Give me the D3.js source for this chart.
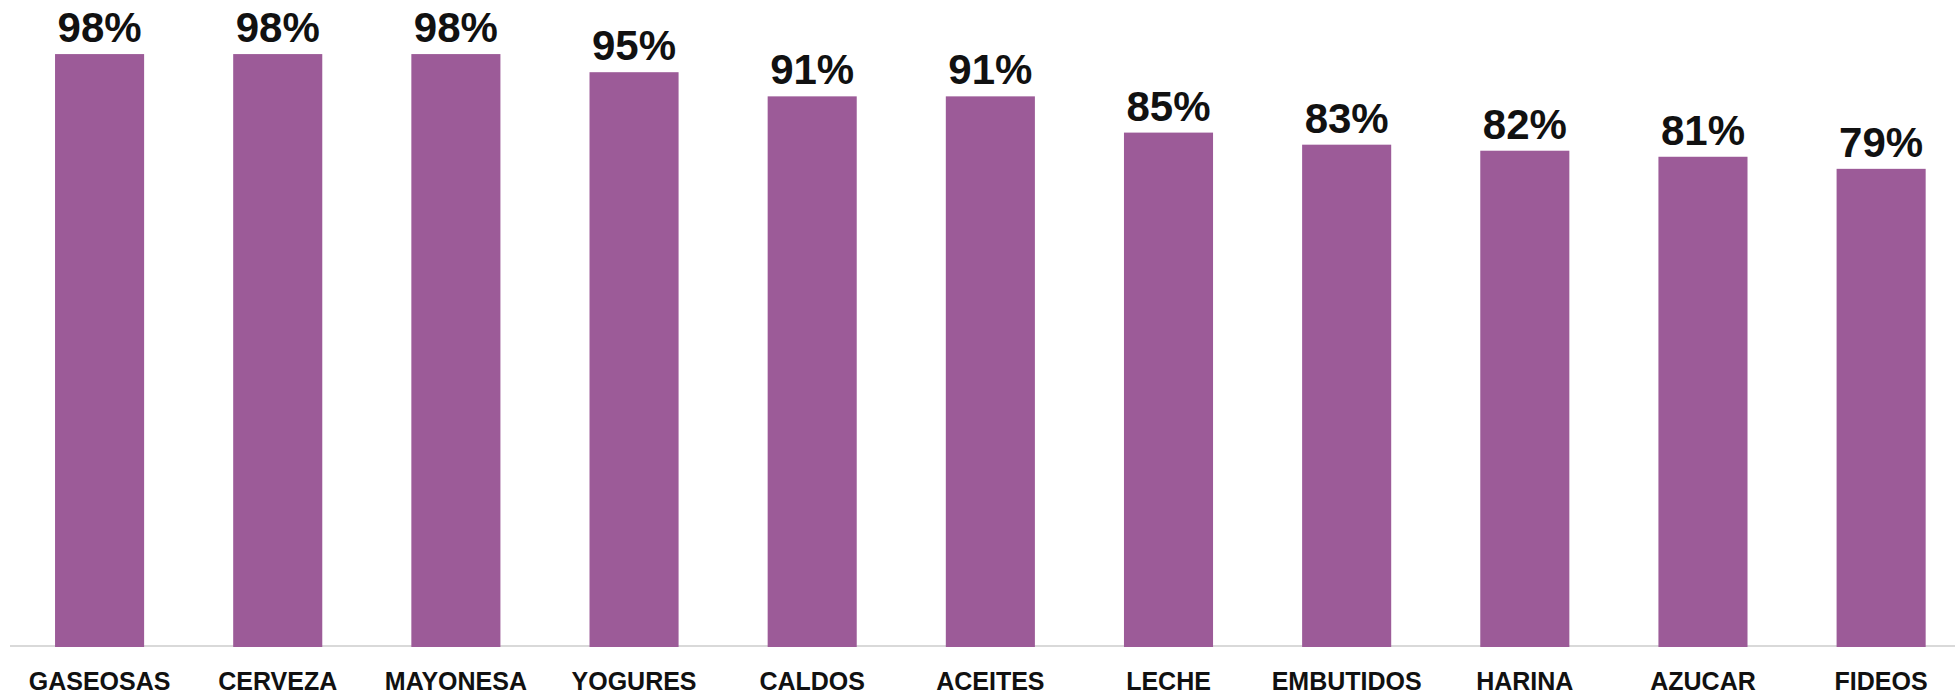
<!DOCTYPE html>
<html><head><meta charset="utf-8">
<script src="https://cdn.jsdelivr.net/npm/d3@7"></script>
<style>html,body{margin:0;padding:0;background:#fff;overflow:hidden}</style>
</head><body>
<svg id="c" width="1955" height="696"></svg>
<script>
const categories = ["GASEOSAS","CERVEZA","MAYONESA","YOGURES","CALDOS","ACEITES","LECHE","EMBUTIDOS","HARINA","AZUCAR","FIDEOS"];
const values = [98,98,98,95,91,91,85,83,82,81,79];
const labels = ["98%","98%","98%","95%","91%","91%","85%","83%","82%","81%","79%"];

const svg = d3.select("#c");
const x = d3.scaleBand().domain(categories).range([10.5, 1970.2]).paddingInner(0.5).paddingOuter(0.25);
const y = d3.scaleLinear().domain([0,100]).range([646, 42]);

svg.append("line").attr("x1",10).attr("x2",1955).attr("y1",646).attr("y2",646)
  .attr("stroke","#d9d9d9").attr("stroke-width",2);

svg.selectAll("rect.bar").data(values).join("rect").attr("class","bar")
  .attr("x",(d,i)=>x(categories[i])).attr("width",x.bandwidth())
  .attr("y",d=>y(d)).attr("height",d=>y(0)-y(d)+1).attr("fill","#9c5b98");

svg.selectAll("text.val").data(values).join("text").attr("class","val")
  .attr("x",(d,i)=>x(categories[i])+x.bandwidth()/2).attr("y",d=>y(d)-12)
  .attr("text-anchor","middle").attr("font-family","'Liberation Sans',Arial,sans-serif")
  .attr("font-weight","bold").attr("font-size",42).attr("fill","#111")
  .text((d,i)=>labels[i]);

const xAxis = d3.axisBottom(x).tickSize(0).tickPadding(0);
const g = svg.append("g").attr("transform","translate(0,646)").call(xAxis);
g.select(".domain").remove();
g.selectAll("text").attr("y",44).attr("dy",0)
  .attr("font-family","'Liberation Sans',Arial,sans-serif")
  .attr("font-weight","bold").attr("font-size",25).attr("fill","#111");
</script>
</body></html>
